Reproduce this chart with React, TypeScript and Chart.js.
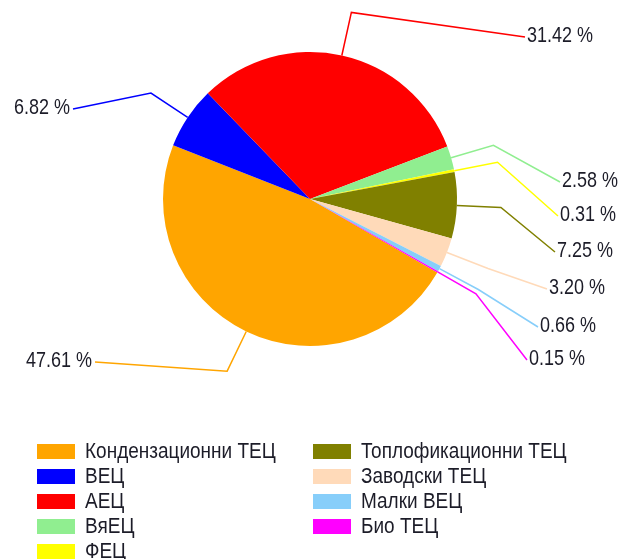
import React, { useEffect, useRef } from "react";
import { Chart, registerables } from "chart.js";

Chart.register(...registerables);

// Electricity generation share by plant type, %
const categories = [
  "Кондензационни ТЕЦ",
  "ВЕЦ",
  "АЕЦ",
  "ВяЕЦ",
  "ФЕЦ",
  "Топлофикационни ТЕЦ",
  "Заводски ТЕЦ",
  "Малки ВЕЦ",
  "Био ТЕЦ",
];
const shares = [47.61, 6.82, 31.42, 2.58, 0.31, 7.25, 3.2, 0.66, 0.15];
const sliceColors = [
  "#FFA500",
  "#0000FF",
  "#FF0000",
  "#90EE90",
  "#FFFF00",
  "#808000",
  "#FFDAB9",
  "#87CEFA",
  "#FF00FF",
];

// Where each outside label's leader line ends, relative to the pie centre
const labelOffsets: [number, number][] = [
  [-215, 163],
  [-237, -90],
  [215, -162],
  [250, -17],
  [248, 17],
  [245, 53],
  [237, 90],
  [228, 128],
  [217, 161],
];

const LABEL_FONT = "18px 'Liberation Sans', Arial, sans-serif";
const LEGEND_FONT = "19px 'Liberation Sans', Arial, sans-serif";
const TEXT_COLOR = "#1c1c28";
const TEXT_STRETCH = 1.18;

function drawText(
  ctx: CanvasRenderingContext2D,
  text: string,
  x: number,
  y: number,
  align: CanvasTextAlign,
  font: string
) {
  ctx.save();
  ctx.translate(x, y);
  ctx.scale(1, TEXT_STRETCH);
  ctx.font = font;
  ctx.fillStyle = TEXT_COLOR;
  ctx.textAlign = align;
  ctx.textBaseline = "middle";
  ctx.fillText(text, 0, 0);
  ctx.restore();
}

const leaderLabels = {
  id: "leaderLabels",
  afterDatasetsDraw(chart: Chart) {
    const ctx = chart.ctx;
    const meta = chart.getDatasetMeta(0);
    const values = chart.data.datasets[0].data as number[];
    meta.data.forEach((el: any, i: number) => {
      const { x, y, startAngle, endAngle, outerRadius } = el.getProps(
        ["x", "y", "startAngle", "endAngle", "outerRadius"],
        true
      );
      const mid = (startAngle + endAngle) / 2;
      const p1x = x + outerRadius * Math.cos(mid);
      const p1y = y + outerRadius * Math.sin(mid);
      const p2x = x + outerRadius * 1.3 * Math.cos(mid);
      const p2y = y + outerRadius * 1.3 * Math.sin(mid);
      const [ox, oy] = labelOffsets[i];
      const p3x = x + ox;
      const p3y = y + oy;
      ctx.save();
      ctx.strokeStyle = sliceColors[i];
      ctx.lineWidth = 1.5;
      ctx.beginPath();
      ctx.moveTo(p1x, p1y);
      ctx.lineTo(p2x, p2y);
      ctx.lineTo(p3x, p3y);
      ctx.stroke();
      ctx.restore();
      const text = values[i].toFixed(2) + " %";
      if (ox < 0) drawText(ctx, text, p3x - 3, p3y - 1, "right", LABEL_FONT);
      else drawText(ctx, text, p3x + 2, p3y - 1, "left", LABEL_FONT);
    });
  },
};

const columnLegend = {
  id: "columnLegend",
  afterDraw(chart: Chart) {
    const ctx = chart.ctx;
    const perColumn = 5;
    const colX = [37, 313];
    const top = 444;
    const rowStep = 25;
    categories.forEach((name, i) => {
      const col = Math.floor(i / perColumn);
      const row = i % perColumn;
      const sx = colX[col];
      const sy = top + row * rowStep;
      ctx.fillStyle = sliceColors[i];
      ctx.fillRect(sx, sy, 38, 15);
      drawText(ctx, name, sx + 48, sy + 8, "left", LEGEND_FONT);
    });
  },
};

export default function App() {
  const canvasRef = useRef<HTMLCanvasElement | null>(null);

  useEffect(() => {
    document.body.style.margin = "0";
    const canvas = canvasRef.current;
    if (!canvas) return;
    const chart = new Chart(canvas, {
      type: "pie",
      data: {
        labels: categories,
        datasets: [
          {
            data: shares,
            backgroundColor: sliceColors,
            borderWidth: 0,
          },
        ],
      },
      options: {
        responsive: false,
        animation: false,
        rotation: 120,
        layout: { padding: { left: 163, right: 165, top: 52, bottom: 213 } },
        plugins: {
          legend: { display: false },
          tooltip: { enabled: false },
        },
      },
      plugins: [leaderLabels, columnLegend],
    });
    return () => chart.destroy();
  }, []);

  return (
    <div style={{ width: 622, height: 559, background: "#fff" }}>
      <canvas ref={canvasRef} width={622} height={559} style={{ display: "block" }} />
    </div>
  );
}
